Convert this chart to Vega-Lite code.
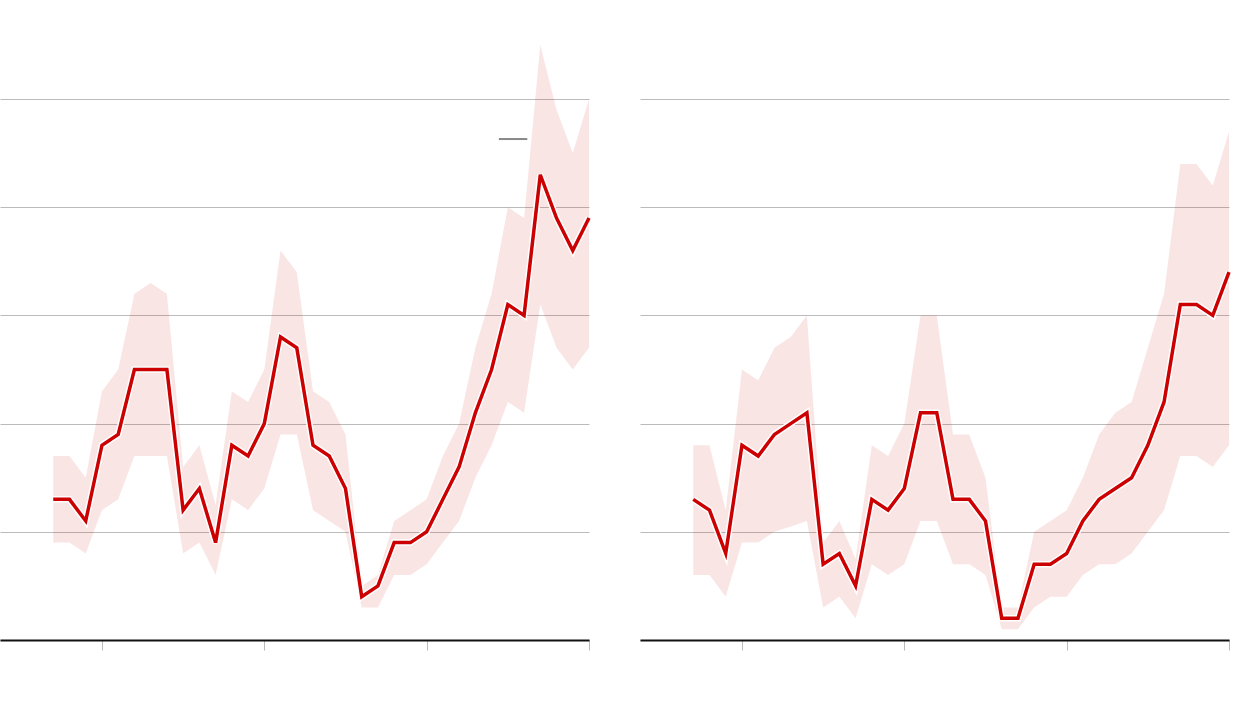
{
  "$schema": "https://vega.github.io/schema/vega-lite/v6.json",
  "padding": 0,
  "background": "white",
  "spacing": 38,
  "datasets": {
    "left": [
      {"year": 1987, "v": 1.3, "lo": 0.9, "hi": 1.7},
      {"year": 1988, "v": 1.3, "lo": 0.9, "hi": 1.7},
      {"year": 1989, "v": 1.1, "lo": 0.8, "hi": 1.5},
      {"year": 1990, "v": 1.8, "lo": 1.2, "hi": 2.3},
      {"year": 1991, "v": 1.9, "lo": 1.3, "hi": 2.5},
      {"year": 1992, "v": 2.5, "lo": 1.7, "hi": 3.2},
      {"year": 1993, "v": 2.5, "lo": 1.7, "hi": 3.3},
      {"year": 1994, "v": 2.5, "lo": 1.7, "hi": 3.2},
      {"year": 1995, "v": 1.2, "lo": 0.8, "hi": 1.6},
      {"year": 1996, "v": 1.4, "lo": 0.9, "hi": 1.8},
      {"year": 1997, "v": 0.9, "lo": 0.6, "hi": 1.25},
      {"year": 1998, "v": 1.8, "lo": 1.3, "hi": 2.3},
      {"year": 1999, "v": 1.7, "lo": 1.2, "hi": 2.2},
      {"year": 2000, "v": 2.0, "lo": 1.4, "hi": 2.5},
      {"year": 2001, "v": 2.8, "lo": 1.9, "hi": 3.6},
      {"year": 2002, "v": 2.7, "lo": 1.9, "hi": 3.4},
      {"year": 2003, "v": 1.8, "lo": 1.2, "hi": 2.3},
      {"year": 2004, "v": 1.7, "lo": 1.1, "hi": 2.2},
      {"year": 2005, "v": 1.4, "lo": 1.0, "hi": 1.9},
      {"year": 2006, "v": 0.4, "lo": 0.3, "hi": 0.5},
      {"year": 2007, "v": 0.5, "lo": 0.3, "hi": 0.6},
      {"year": 2008, "v": 0.9, "lo": 0.6, "hi": 1.1},
      {"year": 2009, "v": 0.9, "lo": 0.6, "hi": 1.2},
      {"year": 2010, "v": 1.0, "lo": 0.7, "hi": 1.3},
      {"year": 2011, "v": 1.3, "lo": 0.9, "hi": 1.7},
      {"year": 2012, "v": 1.6, "lo": 1.1, "hi": 2.0},
      {"year": 2013, "v": 2.1, "lo": 1.5, "hi": 2.7},
      {"year": 2014, "v": 2.5, "lo": 1.8, "hi": 3.2},
      {"year": 2015, "v": 3.1, "lo": 2.2, "hi": 4.0},
      {"year": 2016, "v": 3.0, "lo": 2.1, "hi": 3.9},
      {"year": 2017, "v": 4.3, "lo": 3.1, "hi": 5.5},
      {"year": 2018, "v": 3.9, "lo": 2.7, "hi": 4.9},
      {"year": 2019, "v": 3.6, "lo": 2.5, "hi": 4.5},
      {"year": 2020, "v": 3.9, "lo": 2.7, "hi": 5.0}
    ],
    "right": [
      {"year": 1987, "v": 1.3, "lo": 0.6, "hi": 1.8},
      {"year": 1988, "v": 1.2, "lo": 0.6, "hi": 1.8},
      {"year": 1989, "v": 0.8, "lo": 0.4, "hi": 1.2},
      {"year": 1990, "v": 1.8, "lo": 0.9, "hi": 2.5},
      {"year": 1991, "v": 1.7, "lo": 0.9, "hi": 2.4},
      {"year": 1992, "v": 1.9, "lo": 1.0, "hi": 2.7},
      {"year": 1993, "v": 2.0, "lo": 1.05, "hi": 2.8},
      {"year": 1994, "v": 2.1, "lo": 1.1, "hi": 3.0},
      {"year": 1995, "v": 0.7, "lo": 0.3, "hi": 0.9},
      {"year": 1996, "v": 0.8, "lo": 0.4, "hi": 1.1},
      {"year": 1997, "v": 0.5, "lo": 0.2, "hi": 0.75},
      {"year": 1998, "v": 1.3, "lo": 0.7, "hi": 1.8},
      {"year": 1999, "v": 1.2, "lo": 0.6, "hi": 1.7},
      {"year": 2000, "v": 1.4, "lo": 0.7, "hi": 2.0},
      {"year": 2001, "v": 2.1, "lo": 1.1, "hi": 3.0},
      {"year": 2002, "v": 2.1, "lo": 1.1, "hi": 3.0},
      {"year": 2003, "v": 1.3, "lo": 0.7, "hi": 1.9},
      {"year": 2004, "v": 1.3, "lo": 0.7, "hi": 1.9},
      {"year": 2005, "v": 1.1, "lo": 0.6, "hi": 1.5},
      {"year": 2006, "v": 0.2, "lo": 0.1, "hi": 0.3},
      {"year": 2007, "v": 0.2, "lo": 0.1, "hi": 0.3},
      {"year": 2008, "v": 0.7, "lo": 0.3, "hi": 1.0},
      {"year": 2009, "v": 0.7, "lo": 0.4, "hi": 1.1},
      {"year": 2010, "v": 0.8, "lo": 0.4, "hi": 1.2},
      {"year": 2011, "v": 1.1, "lo": 0.6, "hi": 1.5},
      {"year": 2012, "v": 1.3, "lo": 0.7, "hi": 1.9},
      {"year": 2013, "v": 1.4, "lo": 0.7, "hi": 2.1},
      {"year": 2014, "v": 1.5, "lo": 0.8, "hi": 2.2},
      {"year": 2015, "v": 1.8, "lo": 1.0, "hi": 2.7},
      {"year": 2016, "v": 2.2, "lo": 1.2, "hi": 3.2},
      {"year": 2017, "v": 3.1, "lo": 1.7, "hi": 4.4},
      {"year": 2018, "v": 3.1, "lo": 1.7, "hi": 4.4},
      {"year": 2019, "v": 3.0, "lo": 1.6, "hi": 4.2},
      {"year": 2020, "v": 3.4, "lo": 1.8, "hi": 4.7}
    ],
    "key": [
      {"x1": 2014.45, "x2": 2016.2, "y": 4.63}
    ]
  },
  "hconcat": [
    {
      "width": 589,
      "height": 640,
      "layer": [
        {
          "data": {"name": "left"},
          "mark": {"type": "area", "color": "#cc0000", "opacity": 0.1},
          "encoding": {
            "x": {"field": "year", "type": "quantitative", "scale": {"domain": [1983.72, 2020], "nice": false, "zero": false},
              "axis": {"values": [1990, 2000, 2010, 2020], "labels": false, "title": null, "grid": false, "domainColor": "#111111", "domainWidth": 2, "tickColor": "#bbbbbb", "tickSize": 10, "tickWidth": 1}},
            "y": {"field": "lo", "type": "quantitative", "scale": {"domain": [0, 5.915], "nice": false},
              "axis": {"values": [0, 1, 2, 3, 4, 5], "labels": false, "ticks": false, "domain": false, "title": null, "gridColor": "#bbbbbb", "gridWidth": 1}},
            "y2": {"field": "hi"}
          }
        },
        {
          "data": {"name": "left"},
          "mark": {"type": "line", "color": "white", "strokeWidth": 6.5},
          "encoding": {
            "x": {"field": "year", "type": "quantitative"},
            "y": {"field": "v", "type": "quantitative"}
          }
        },
        {
          "data": {"name": "left"},
          "mark": {"type": "line", "color": "#cc0000", "strokeWidth": 3.5},
          "encoding": {
            "x": {"field": "year", "type": "quantitative"},
            "y": {"field": "v", "type": "quantitative"}
          }
        },
        {
          "data": {"name": "key"},
          "mark": {"type": "rule", "color": "#888888", "strokeWidth": 2},
          "encoding": {
            "x": {"field": "x1", "type": "quantitative"},
            "x2": {"field": "x2"},
            "y": {"field": "y", "type": "quantitative"}
          }
        }
      ]
    },
    {
      "width": 589,
      "height": 640,
      "layer": [
        {
          "data": {"name": "right"},
          "mark": {"type": "area", "color": "#cc0000", "opacity": 0.1},
          "encoding": {
            "x": {"field": "year", "type": "quantitative", "scale": {"domain": [1983.72, 2020], "nice": false, "zero": false},
              "axis": {"values": [1990, 2000, 2010, 2020], "labels": false, "title": null, "grid": false, "domainColor": "#111111", "domainWidth": 2, "tickColor": "#bbbbbb", "tickSize": 10, "tickWidth": 1}},
            "y": {"field": "lo", "type": "quantitative", "scale": {"domain": [0, 5.915], "nice": false},
              "axis": {"values": [0, 1, 2, 3, 4, 5], "labels": false, "ticks": false, "domain": false, "title": null, "gridColor": "#bbbbbb", "gridWidth": 1}},
            "y2": {"field": "hi"}
          }
        },
        {
          "data": {"name": "right"},
          "mark": {"type": "line", "color": "white", "strokeWidth": 6.5},
          "encoding": {
            "x": {"field": "year", "type": "quantitative"},
            "y": {"field": "v", "type": "quantitative"}
          }
        },
        {
          "data": {"name": "right"},
          "mark": {"type": "line", "color": "#cc0000", "strokeWidth": 3.5},
          "encoding": {
            "x": {"field": "year", "type": "quantitative"},
            "y": {"field": "v", "type": "quantitative"}
          }
        }
      ]
    }
  ],
  "config": {
    "view": {"stroke": null}
  }
}
